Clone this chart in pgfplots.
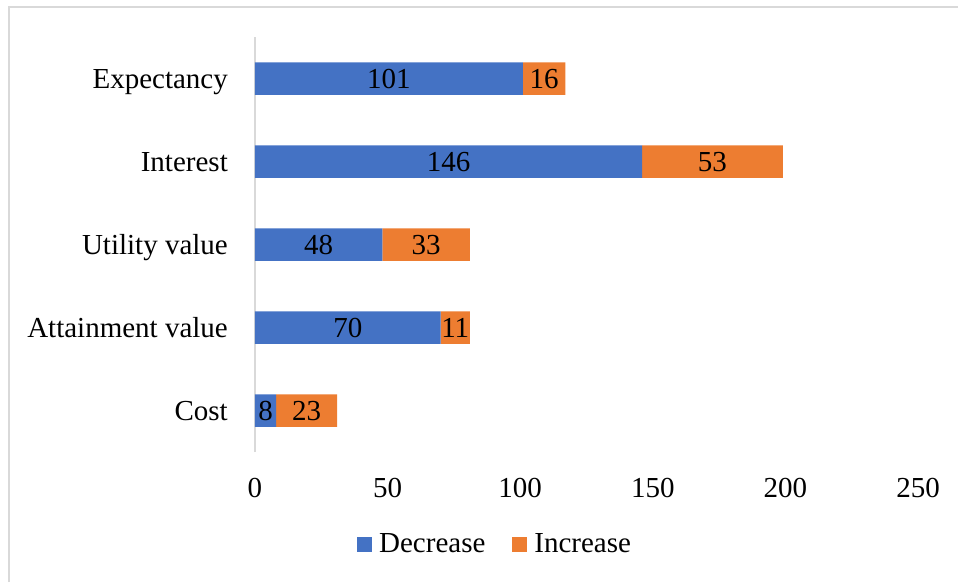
\documentclass[border=0pt]{standalone}
\usepackage{fontspec}
\setmainfont{Liberation Serif}
\usepackage{pgfplots}
\pgfplotsset{compat=1.18}
\definecolor{decblue}{HTML}{4472C4}
\definecolor{incorange}{HTML}{ED7D31}
\definecolor{framegray}{HTML}{D9D9D9}

\begin{document}
\begin{tikzpicture}[font=\fontsize{29}{34}\selectfont, x=1pt, y=1pt]
\useasboundingbox (0,0) rectangle (958,582);
% chart area border (left and top edges)
\draw[framegray, line width=2pt] (8.5,0) -- (8.5,574.5) -- (958,574.5);
\begin{axis}[
  at={(255pt,130pt)}, anchor=south west,
  scale only axis, width=663pt, height=415pt,
  xbar stacked, bar width=32.5pt,
  xmin=0, xmax=250, ymin=-0.5, ymax=4.5,
  xtick={0,50,...,250},
  ytick={0,...,4},
  yticklabels={Cost, Attainment value, Utility value, Interest, Expectancy},
  major tick length=0pt,
  separate axis lines,
  axis x line*=bottom,
  axis y line*=left,
  x axis line style={draw=none},
  y axis line style={draw=framegray, line width=2pt},
  /pgf/number format/assume math mode=true,
  xticklabel style={anchor=north, inner sep=0pt, yshift=-26pt},
  yticklabel style={anchor=base east, inner sep=0pt, xshift=-27pt, yshift=-9.5pt},
  % stacked segments: labels show each segment's own value, at its middle
  point meta=rawx,
  nodes near coords,
  every node near coord/.style={anchor=base, inner sep=0pt, text=black,
    yshift=-10pt},
  legend columns=2,
  legend style={at={(0.1538,-0.2217)}, anchor=west, draw=none, fill=none,
    inner sep=0pt, nodes={inner sep=0pt, anchor=west},
    /tikz/every even column/.append style={column sep=27pt},
    /tikz/every odd column/.append style={column sep=7pt}},
  legend image code/.code={\fill[#1] (0pt,-7.5pt) rectangle (15pt,7.5pt);},
]
\addplot[fill=decblue, draw=none] coordinates {(8,0) (70,1) (48,2) (146,3) (101,4)};
\addplot[fill=incorange, draw=none] coordinates {(23,0) (11,1) (33,2) (53,3) (16,4)};
\legend{Decrease, Increase}
\end{axis}
\end{tikzpicture}
\end{document}
